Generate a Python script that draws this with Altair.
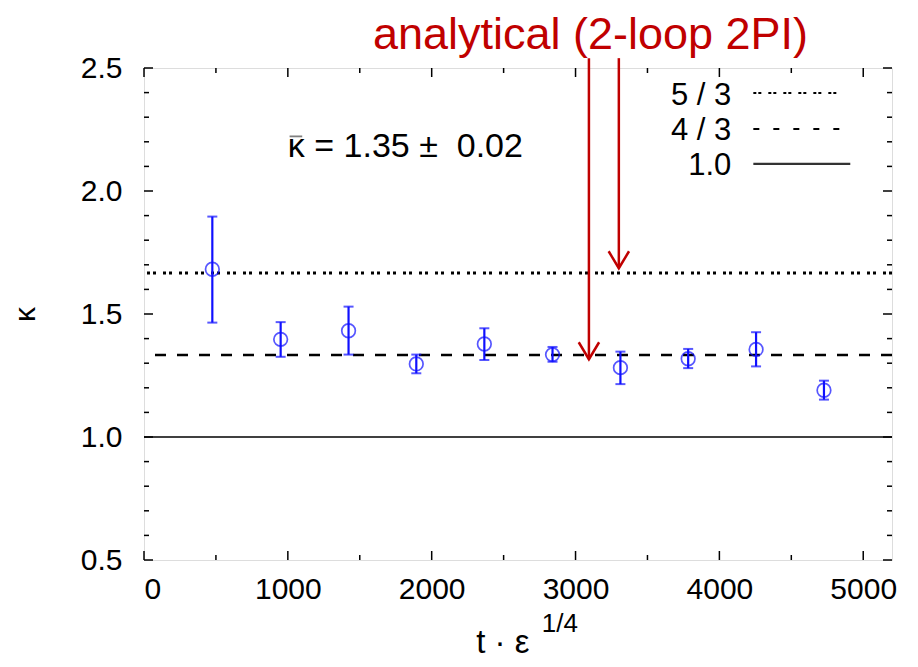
import altair as alt
import pandas as pd

# ---------------- data ----------------
t_vals = [475, 950, 1422, 1893, 2366, 2840, 3312, 3783, 4255, 4727]
kappa = [1.682, 1.397, 1.432, 1.297, 1.378, 1.335, 1.282, 1.318, 1.356, 1.190]
kappa_hi = [1.896, 1.467, 1.530, 1.335, 1.442, 1.366, 1.347, 1.358, 1.426, 1.229]
kappa_lo = [1.465, 1.326, 1.335, 1.259, 1.313, 1.306, 1.215, 1.280, 1.287, 1.152]

ref_levels = [5 / 3, 4 / 3, 1.0]
ref_labels = ["5 / 3", "4 / 3", "1.0"]

arrow_x = [3093, 3301]
arrow_tip = [1.316, 1.686]
arrow_top = [2.54, 2.54]

x_major = [0, 1000, 2000, 3000, 4000, 5000]
x_minor = [500, 1500, 2500, 3500, 4500]
y_major = [0.5, 1.0, 1.5, 2.0, 2.5]
y_minor = [0.6, 0.7, 0.8, 0.9, 1.1, 1.2, 1.3, 1.4, 1.6, 1.7, 1.8, 1.9, 2.1, 2.2, 2.3, 2.4]

# legend key placement (data units)
legend_text_x = [4083, 4083, 4083]
legend_text_y = [2.35, 2.207, 2.065]
legend_line_x1 = [4236, 4236, 4236]
legend_line_x2 = [4854, 4854, 4910]
legend_line_y = [2.398, 2.252, 2.110]

# kappa-bar annotation placement (data units)
kbar_x = [1000]
kbar_y = [2.138]
kbar_line_x = [1012]
kbar_line_x2 = [1100]
kbar_line_y = [2.222]

W, H = 748, 492
FONT = "Liberation Sans"
BLUE = "#1010ff"
RED = "#c00000"

xs = alt.Scale(domain=[0, 5200], nice=False, zero=False)
ys = alt.Scale(domain=[0.5, 2.5], nice=False, zero=False)

pts = pd.DataFrame({"t": t_vals, "k": kappa, "hi": kappa_hi, "lo": kappa_lo})
base = alt.Chart(pts)

X = alt.X("t:Q", scale=xs,
          axis=alt.Axis(values=x_major, format="d", title=None, ticks=False, domain=False,
                        grid=False, labelFontSize=30, labelFont=FONT, labelColor="black",
                        labelPadding=14))
Y = alt.Y("k:Q", scale=ys,
          axis=alt.Axis(values=y_major, format=".1f", title="κ", ticks=False, domain=False,
                        grid=False, labelFontSize=30, labelFont=FONT, labelColor="black",
                        labelPadding=22, titleFontSize=30, titleFont=FONT, titleFontWeight="normal",
                        titleColor="black", titlePadding=40))

points = base.mark_point(shape="circle", filled=False, size=185, strokeWidth=1.7, color=BLUE).encode(x=X, y=Y)
bars = base.mark_rule(strokeWidth=2.2, color=BLUE).encode(
    x=alt.X("t:Q", scale=xs), y=alt.Y("lo:Q", scale=ys), y2="hi:Q")
cap_hi = base.mark_tick(orient="horizontal", size=10, thickness=2, color=BLUE).encode(
    x=alt.X("t:Q", scale=xs), y=alt.Y("hi:Q", scale=ys))
cap_lo = base.mark_tick(orient="horizontal", size=10, thickness=2, color=BLUE).encode(
    x=alt.X("t:Q", scale=xs), y=alt.Y("lo:Q", scale=ys))

# reference lines
dashes = [[3, 3, 3, 7], [11, 11], []]
widths = [3, 2.5, 1.5]
ref_layers = []
for lvl, d, w in zip(ref_levels, dashes, widths):
    kw = dict(strokeWidth=w, color="black")
    if d:
        kw["strokeDash"] = d
    ref_layers.append(
        alt.Chart(pd.DataFrame({"v": [lvl]})).mark_rule(**kw).encode(y=alt.Y("v:Q", scale=ys))
    )

# legend
leg = pd.DataFrame({"lab": ref_labels, "tx": legend_text_x, "ty": legend_text_y,
                    "x1": legend_line_x1, "x2": legend_line_x2, "ly": legend_line_y})
leg_text = alt.Chart(leg).mark_text(align="right", baseline="alphabetic", fontSize=31, font=FONT,
                                    color="black").encode(
    x=alt.X("tx:Q", scale=xs), y=alt.Y("ty:Q", scale=ys), text="lab:N")
leg_dashes = [[3, 2, 3, 7], [6, 14], []]
leg_layers = []
for i, d in enumerate(leg_dashes):
    kw = dict(strokeWidth=2 if d else 2.2, color="black" if d else "#333333")
    if d:
        kw["strokeDash"] = d
    leg_layers.append(
        alt.Chart(leg.iloc[[i]]).mark_rule(**kw).encode(
            x=alt.X("x1:Q", scale=xs), x2="x2:Q", y=alt.Y("ly:Q", scale=ys))
    )

# arrows
arr = pd.DataFrame({"ax": arrow_x, "tip": arrow_tip, "top": arrow_top})
arrow_shafts = alt.Chart(arr).mark_rule(strokeWidth=2.5, color=RED).encode(
    x=alt.X("ax:Q", scale=xs), y=alt.Y("top:Q", scale=ys), y2="tip:Q")
arrow_heads = alt.Chart(arr).mark_point(
    shape="M-0.6,-1L0,0L0.6,-1", filled=False, size=1156, strokeWidth=2.5, color=RED, opacity=1
).encode(x=alt.X("ax:Q", scale=xs), y=alt.Y("tip:Q", scale=ys))

ann_title = alt.Chart(pd.DataFrame({"x": [3104], "s": ["analytical (2-loop 2PI)"]})).mark_text(
    align="center", baseline="alphabetic", fontSize=45, font=FONT, color=RED).encode(
    x=alt.X("x:Q", scale=xs), y=alt.value(-19), text="s:N")

# kappa-bar annotation: kappa, its overline, and the rest of the expression
kb = pd.DataFrame({"x": kbar_x, "y": kbar_y, "lx": kbar_line_x, "lx2": kbar_line_x2, "ly": kbar_line_y})
kb_text = alt.Chart(kb).mark_text(align="left", baseline="alphabetic", fontSize=34, font=FONT,
                                  color="black", text="κ = 1.35 ±\u00a0 0.02").encode(
    x=alt.X("x:Q", scale=xs), y=alt.Y("y:Q", scale=ys))
kb_bar = alt.Chart(kb).mark_rule(color="#808080", strokeWidth=1.8).encode(
    x=alt.X("lx:Q", scale=xs), x2="lx2:Q", y=alt.Y("ly:Q", scale=ys))

xt_main = alt.Chart(pd.DataFrame({"x": [2495], "s": ["t · ε"]})).mark_text(
    align="center", baseline="alphabetic", fontSize=33, font=FONT, color="black").encode(
    x=alt.X("x:Q", scale=xs), y=alt.value(585), text="s:N")
xt_sup = alt.Chart(pd.DataFrame({"x": [2765], "s": ["1/4"]})).mark_text(
    align="left", baseline="alphabetic", fontSize=26, font=FONT, color="black").encode(
    x=alt.X("x:Q", scale=xs), y=alt.value(564), text="s:N")

# inward ticks (gnuplot style, mirrored)
def yticks(vals, length):
    df = pd.DataFrame({"v": vals})
    left = alt.Chart(df).mark_rule(strokeWidth=1.5, color="black").encode(
        y=alt.Y("v:Q", scale=ys), x=alt.value(0), x2=alt.value(length))
    right = alt.Chart(df).mark_rule(strokeWidth=1.5, color="black").encode(
        y=alt.Y("v:Q", scale=ys), x=alt.value(W - length), x2=alt.value(W))
    return [left, right]

def xticks(vals, length):
    df = pd.DataFrame({"v": vals})
    bottom = alt.Chart(df).mark_rule(strokeWidth=1.5, color="black").encode(
        x=alt.X("v:Q", scale=xs), y=alt.value(H - length), y2=alt.value(H))
    top = alt.Chart(df).mark_rule(strokeWidth=1.5, color="black").encode(
        x=alt.X("v:Q", scale=xs), y=alt.value(0), y2=alt.value(length))
    return [bottom, top]

tick_layers = yticks(y_major, 9) + yticks(y_minor, 5) + xticks(x_major, 9) + xticks(x_minor, 5)

chart = alt.layer(
    *ref_layers, bars, cap_hi, cap_lo, points, *tick_layers, *leg_layers, leg_text,
    arrow_shafts, arrow_heads, ann_title, kb_text, kb_bar, xt_main, xt_sup
).properties(
    width=W, height=H,
    autosize=alt.AutoSizeParams(type="none"),
    padding={"left": 136, "top": 60, "right": 18, "bottom": 99},
).configure_view(stroke="#333333", strokeWidth=1.5).configure(background="white")

chart.save("out.html", embed_options={"renderer": "svg", "actions": False})
